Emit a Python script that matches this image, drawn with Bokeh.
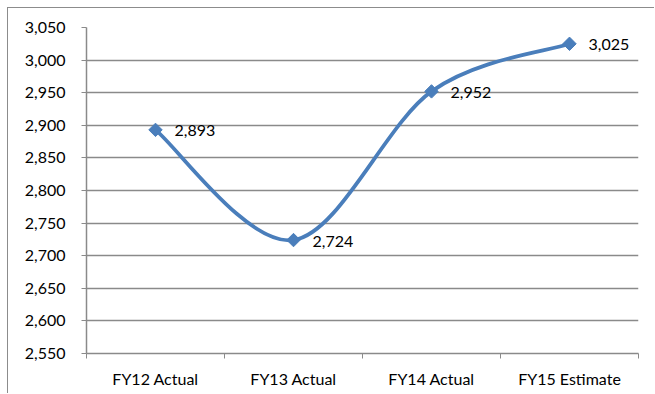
import math
from bokeh.plotting import figure
from bokeh.models import Range1d, FixedTicker, NumeralTickFormatter, ColumnDataSource
from bokeh.embed import file_html
from bokeh.resources import INLINE
from bokeh.core.properties import value

categories = ["FY12 Actual", "FY13 Actual", "FY14 Actual", "FY15 Estimate"]
values = [2893, 2724, 2952, 3025]
y_ticks = [2550, 2600, 2650, 2700, 2750, 2800, 2850, 2900, 2950, 3000, 3050]
labels = ["2,893", "2,724", "2,952", "3,025"]

FONT = "Lato"
LINE = "#4A7EBB"
GRID = "#8A8A8A"

xs = [i + 0.5 for i in range(len(categories))]

p = figure(width=647, height=386, output_backend="svg", toolbar_location=None,
           x_range=Range1d(0, len(categories)), y_range=Range1d(2550, 3050))
p.min_border_left = 78
p.min_border_right = 17
p.min_border_top = 19
p.min_border_bottom = 41
p.outline_line_color = None
p.background_fill_color = "white"
p.border_fill_color = "white"
p.styles = {"margin-left": "7px", "margin-top": "7px",
            "border-left": "1px solid #8C8C8C", "border-top": "1px solid #8C8C8C"}

# smooth curve (Catmull-Rom style Bezier, as in spreadsheet smoothing)
n = len(xs)
seg = dict(x0=[], y0=[], x1=[], y1=[], cx0=[], cy0=[], cx1=[], cy1=[])
for i in range(n - 1):
    px, py = xs[i], values[i]
    qx, qy = xs[i + 1], values[i + 1]
    ax, ay = (xs[i - 1], values[i - 1]) if i > 0 else (px, py)
    bx, by = (xs[i + 2], values[i + 2]) if i + 2 < n else (qx, qy)
    seg["x0"].append(px); seg["y0"].append(py)
    seg["x1"].append(qx); seg["y1"].append(qy)
    seg["cx0"].append(px + (qx - ax) / 6); seg["cy0"].append(py + (qy - ay) / 6)
    seg["cx1"].append(qx - (bx - px) / 6); seg["cy1"].append(qy - (by - py) / 6)
p.bezier(x0="x0", y0="y0", x1="x1", y1="y1", cx0="cx0", cy0="cy0", cx1="cx1", cy1="cy1",
         source=ColumnDataSource(seg), line_color=LINE, line_width=3.8)

src = ColumnDataSource(dict(x=xs, y=values, lab=labels))
p.scatter("x", "y", source=src, marker="square", angle=math.pi / 4, size=9.5,
          fill_color=LINE, line_color=LINE)
p.text("x", "y", text="lab", source=src, x_offset=19, y_offset=1,
       text_font=value(FONT), text_font_size="16px", text_color="#000000",
       text_baseline="middle", text_align="left")

# y axis
p.yaxis.ticker = FixedTicker(ticks=y_ticks)
p.yaxis.formatter = NumeralTickFormatter(format="0,0")
p.yaxis.axis_line_color = GRID
p.yaxis.axis_line_width = 1.5
p.yaxis.major_tick_line_color = GRID
p.yaxis.major_tick_out = 5
p.yaxis.major_tick_in = 0
p.yaxis.minor_tick_line_color = None
p.yaxis.major_label_standoff = 16
p.yaxis.major_label_text_font = FONT
p.yaxis.major_label_text_font_size = "16px"
p.yaxis.major_label_text_color = "#000000"

# x axis
p.xaxis.ticker = FixedTicker(ticks=xs, minor_ticks=list(range(n + 1)))
p.xaxis.major_label_overrides = {x: c for x, c in zip(xs, categories)}
p.xaxis.axis_line_color = GRID
p.xaxis.axis_line_width = 1.5
p.xaxis.major_tick_line_color = None
p.xaxis.major_tick_out = 0
p.xaxis.major_tick_in = 0
p.xaxis.minor_tick_line_color = GRID
p.xaxis.minor_tick_out = 5
p.xaxis.minor_tick_in = 0
p.xaxis.major_label_standoff = 10
p.xaxis.major_label_text_font = FONT
p.xaxis.major_label_text_font_size = "16px"
p.xaxis.major_label_text_color = "#000000"

p.xgrid.grid_line_color = None
p.ygrid.ticker = FixedTicker(ticks=y_ticks)
p.ygrid.grid_line_color = GRID
p.ygrid.grid_line_width = 1.3

open("out.html", "w").write(file_html(p, INLINE))
